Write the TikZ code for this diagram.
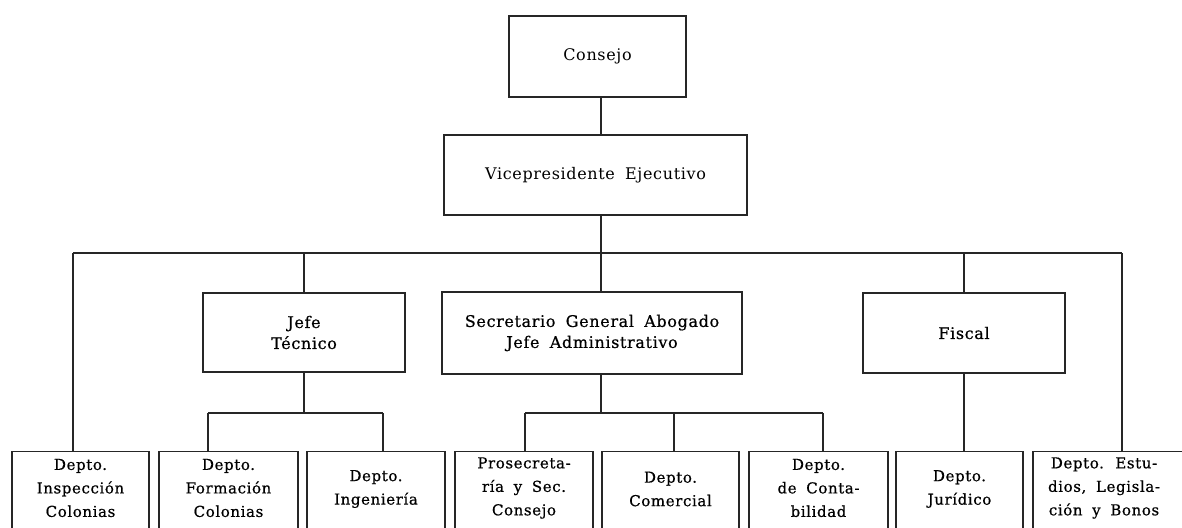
\documentclass[tikz,border=0pt]{standalone}
\usepackage{fontspec}
\setmainfont[WordSpace=1.8, LetterSpace=4]{DejaVu Serif}
\newfontfamily\heavyfont[WordSpace=1.8, LetterSpace=4, FakeBold=0.6]{DejaVu Serif}
\begin{document}
\begin{tikzpicture}[x=1pt,y=-1pt,
  box/.style={draw=black!85, line width=1.1pt, inner sep=0pt, align=center,
    font=\fontsize{16}{21}\selectfont},
  hbox/.style={box, font=\heavyfont\fontsize{16}{21}\selectfont},
  dept/.style={draw=black!85, line width=1.1pt, inner sep=0pt, anchor=north, minimum height=100pt},
  dtext/.style={align=center, inner sep=0pt, font=\heavyfont\fontsize{15}{23.5}\selectfont},
  conn/.style={draw=black!85, line width=1.1pt}]
\useasboundingbox (0,0) rectangle (1182,527);
\begin{scope}
\clip (0,0) rectangle (1182,527);
% upper boxes
\node[box, minimum width=177pt, minimum height=81pt] (consejo) at (597.5,56.5) {Consejo};
\node[box, minimum width=303pt, minimum height=80pt] (vp) at (595.5,175) {Vicepresidente Ejecutivo};
\node[hbox, minimum width=202pt, minimum height=79pt] (jefe) at (304,332.5) {Jefe\\Técnico};
\node[hbox, minimum width=300pt, minimum height=82pt] (sec) at (592,333) {Secretario General Abogado\\Jefe Administrativo};
\node[hbox, minimum width=202pt, minimum height=80pt] (fiscal) at (964,333) {Fiscal};
% department boxes (open at the bottom edge of the picture)
\node[dept, minimum width=137pt] (d1) at (80.5,451) {};
\node[dept, minimum width=139pt] (d2) at (228.5,451) {};
\node[dept, minimum width=138pt] (d3) at (376,451) {};
\node[dept, minimum width=138pt] (d4) at (524,451) {};
\node[dept, minimum width=137pt] (d5) at (670.5,451) {};
\node[dept, minimum width=139pt] (d6) at (818.5,451) {};
\node[dept, minimum width=127pt] (d7) at (959.5,451) {};
\node[dept, minimum width=167pt] (d8) at (1116.5,451) {};
\node[dtext] (t1) at (80.5,488) {Depto.\\Inspección\\Colonias};
\node[dtext] (t2) at (228.5,488) {Depto.\\Formación\\Colonias};
\node[dtext] (t3) at (376,489) {Depto.\\Ingeniería};
\node[dtext] (t4) at (524,488) {Prosecreta-\\ría y Sec.\\Consejo};
\node[dtext] (t5) at (670.5,489) {Depto.\\Comercial};
\node[dtext] (t6) at (818.5,488) {Depto.\\de Conta-\\bilidad};
\node[dtext] (t7) at (959.5,489) {Depto.\\Jurídico};
\node[dtext] (t8) at (1104,488) {Depto. Estu-\\dios, Legisla-\\ción y Bonos};
% connector coordinates
\coordinate (busC) at (601,253);
\coordinate (busL) at (73,253);
\coordinate (busR) at (1122,253);
\coordinate (s1L) at (208,413);
\coordinate (s1R) at (383,413);
\coordinate (s2L) at (525,413);
\coordinate (s2M) at (674,413);
\coordinate (s2R) at (823,413);
% connectors
\draw[conn] (consejo.south -| busC) -- (vp.north -| busC);
\draw[conn] (vp.south -| busC) -- (sec.north -| busC);
\draw[conn] (busL) -- (busR);
\draw[conn] (busL) -- (busL |- d1.north);
\draw[conn] (busR) -- (busR |- d8.north);
\draw[conn] (jefe.north |- busL) -- (jefe.north);
\draw[conn] (fiscal.north |- busL) -- (fiscal.north);
\draw[conn] (jefe.south) -- (jefe.south |- s1L);
\draw[conn] (s1L) -- (s1R);
\draw[conn] (s1L) -- (s1L |- d2.north);
\draw[conn] (s1R) -- (s1R |- d3.north);
\draw[conn] (sec.south -| busC) -- (busC |- s2L);
\draw[conn] (s2L) -- (s2R);
\draw[conn] (s2L) -- (s2L |- d4.north);
\draw[conn] (s2M) -- (s2M |- d5.north);
\draw[conn] (s2R) -- (s2R |- d6.north);
\draw[conn] (fiscal.south) -- (fiscal.south |- d7.north);
\end{scope}
\end{tikzpicture}
\end{document}
